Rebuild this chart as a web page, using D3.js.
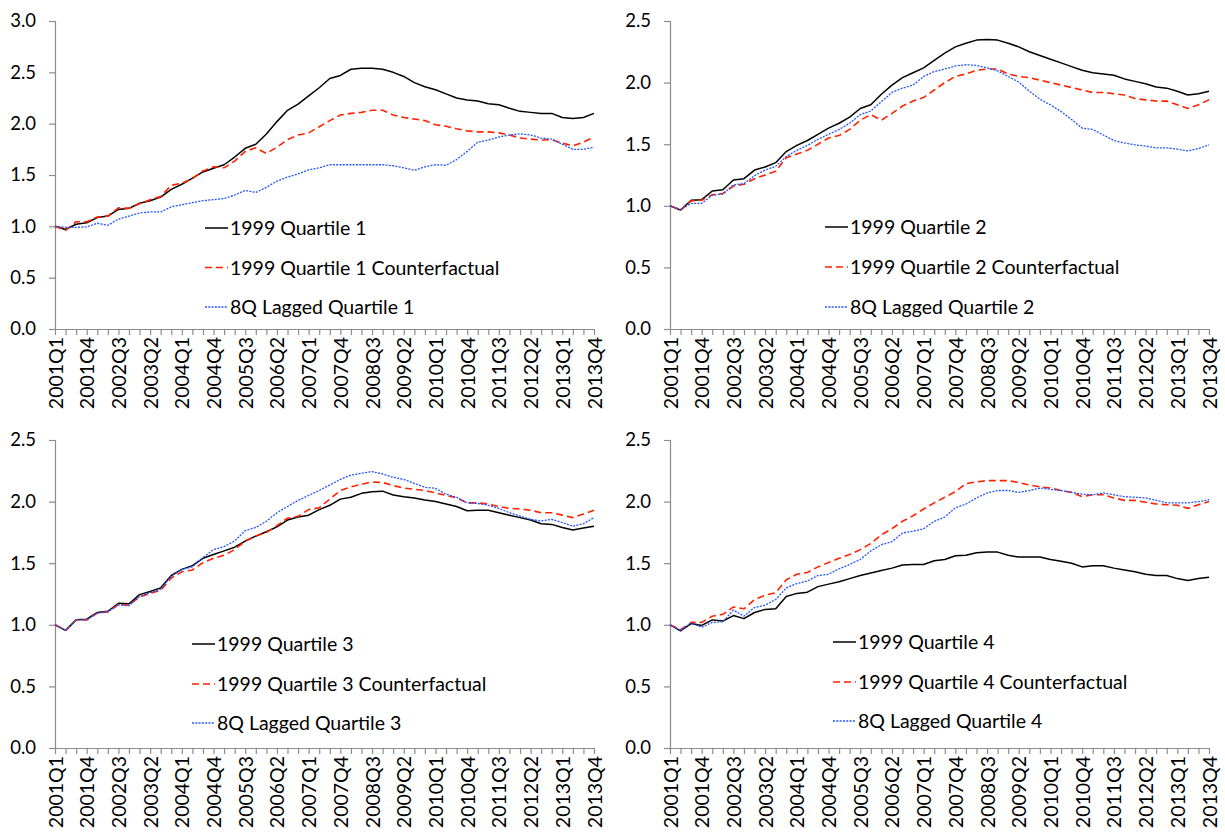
<!DOCTYPE html>
<html>
<head>
<meta charset="utf-8">
<script src="https://cdn.jsdelivr.net/npm/d3@7"></script>
<style>
  html, body { margin: 0; padding: 0; background: #fff; }
  svg { display: block; }
  text { font-family: Lato, "Open Sans", sans-serif; fill: #000; }
</style>
</head>
<body>
<svg id="chart" width="1225" height="832"></svg>
<script>
// ---- categories ----
const quarters = [
  "2001Q1","2001Q2","2001Q3","2001Q4","2002Q1","2002Q2","2002Q3","2002Q4",
  "2003Q1","2003Q2","2003Q3","2003Q4","2004Q1","2004Q2","2004Q3","2004Q4",
  "2005Q1","2005Q2","2005Q3","2005Q4","2006Q1","2006Q2","2006Q3","2006Q4",
  "2007Q1","2007Q2","2007Q3","2007Q4","2008Q1","2008Q2","2008Q3","2008Q4",
  "2009Q1","2009Q2","2009Q3","2009Q4","2010Q1","2010Q2","2010Q3","2010Q4",
  "2011Q1","2011Q2","2011Q3","2011Q4","2012Q1","2012Q2","2012Q3","2012Q4",
  "2013Q1","2013Q2","2013Q3","2013Q4"
];
const xTickLabels = [
  "2001Q1","2001Q4","2002Q3","2003Q2","2004Q1","2004Q4","2005Q3","2006Q2",
  "2007Q1","2007Q4","2008Q3","2009Q2","2010Q1","2010Q4","2011Q3","2012Q2",
  "2013Q1","2013Q4"
];
const yTicksP1 = [0, 0.5, 1.0, 1.5, 2.0, 2.5, 3.0];
const yTicksOther = [0, 0.5, 1.0, 1.5, 2.0, 2.5];

// ---- Quartile 1 ----
const q1Actual = [1.00,0.97,1.02,1.035,1.085,1.10,1.165,1.175,1.225,1.25,1.285,1.36,1.41,1.47,1.53,1.565,
  1.60,1.675,1.76,1.80,1.90,2.02,2.13,2.19,2.27,2.35,2.44,2.47,2.53,2.54,2.54,2.53,
  2.50,2.46,2.40,2.36,2.33,2.29,2.25,2.23,2.22,2.195,2.185,2.15,2.12,2.11,2.10,2.10,
  2.06,2.05,2.06,2.10];
const q1Counter = [1.00,0.96,1.045,1.045,1.09,1.10,1.18,1.175,1.22,1.26,1.29,1.40,1.42,1.465,1.54,1.58,
  1.57,1.635,1.73,1.765,1.71,1.77,1.845,1.89,1.91,1.97,2.03,2.085,2.10,2.11,2.13,2.13,
  2.085,2.06,2.045,2.03,1.99,1.975,1.95,1.93,1.92,1.92,1.91,1.89,1.86,1.85,1.84,1.845,
  1.81,1.785,1.82,1.87];
const q1Lagged = [1.00,0.99,0.99,0.995,1.03,1.01,1.07,1.10,1.13,1.14,1.14,1.19,1.21,1.23,1.25,1.26,
  1.27,1.305,1.35,1.33,1.38,1.44,1.48,1.51,1.55,1.57,1.60,1.60,1.60,1.60,1.60,1.60,
  1.59,1.57,1.545,1.58,1.60,1.595,1.65,1.73,1.82,1.84,1.87,1.89,1.90,1.89,1.86,1.85,
  1.80,1.75,1.75,1.77];

// ---- Quartile 2 ----
const q2Actual = [1.00,0.965,1.045,1.05,1.12,1.13,1.21,1.22,1.29,1.315,1.35,1.44,1.49,1.53,1.58,1.63,
  1.67,1.72,1.79,1.82,1.905,1.98,2.04,2.08,2.12,2.18,2.24,2.29,2.32,2.345,2.35,2.345,
  2.32,2.29,2.25,2.22,2.19,2.16,2.13,2.10,2.08,2.07,2.06,2.03,2.01,1.99,1.965,1.955,
  1.93,1.90,1.91,1.93];
const q2Counter = [1.00,0.965,1.04,1.045,1.09,1.10,1.16,1.175,1.22,1.25,1.28,1.39,1.42,1.45,1.50,1.55,
  1.57,1.62,1.695,1.74,1.695,1.75,1.81,1.85,1.88,1.94,2.00,2.05,2.07,2.10,2.11,2.11,
  2.07,2.05,2.04,2.02,2.00,1.98,1.96,1.94,1.92,1.92,1.91,1.90,1.87,1.86,1.85,1.85,
  1.82,1.79,1.82,1.86];
const q2Lagged = [1.00,0.97,1.02,1.02,1.085,1.095,1.17,1.18,1.245,1.29,1.32,1.40,1.45,1.49,1.54,1.58,
  1.62,1.67,1.74,1.77,1.845,1.92,1.955,1.98,2.05,2.09,2.11,2.135,2.145,2.14,2.12,2.095,
  2.05,2.005,1.93,1.865,1.82,1.765,1.70,1.63,1.62,1.575,1.53,1.51,1.495,1.485,1.47,1.47,
  1.46,1.445,1.465,1.495];

// ---- Quartile 3 ----
const q3Actual = [1.00,0.955,1.04,1.045,1.10,1.11,1.175,1.17,1.245,1.27,1.30,1.40,1.45,1.48,1.54,1.57,
  1.60,1.63,1.68,1.72,1.755,1.795,1.85,1.875,1.89,1.935,1.97,2.02,2.035,2.067,2.08,2.085,
  2.054,2.04,2.03,2.013,2.00,1.98,1.96,1.926,1.93,1.93,1.91,1.89,1.87,1.85,1.82,1.815,
  1.79,1.77,1.785,1.80];
const q3Counter = [1.00,0.955,1.04,1.04,1.095,1.105,1.165,1.16,1.225,1.255,1.28,1.38,1.43,1.445,1.505,1.54,
  1.565,1.61,1.68,1.72,1.75,1.805,1.865,1.88,1.935,1.95,2.02,2.09,2.12,2.14,2.16,2.155,
  2.13,2.11,2.10,2.09,2.07,2.05,2.03,1.99,1.99,1.98,1.96,1.945,1.94,1.93,1.91,1.91,
  1.89,1.87,1.90,1.93];
const q3Lagged = [1.00,0.955,1.04,1.04,1.095,1.105,1.16,1.155,1.23,1.26,1.29,1.395,1.45,1.47,1.545,1.61,
  1.635,1.68,1.765,1.79,1.84,1.91,1.96,2.01,2.05,2.09,2.135,2.18,2.215,2.23,2.243,2.224,
  2.197,2.18,2.148,2.116,2.108,2.06,2.035,1.99,1.985,1.97,1.945,1.91,1.883,1.856,1.843,1.856,
  1.83,1.80,1.82,1.87];

// ---- Quartile 4 ----
const q4Actual = [1.00,0.95,1.01,0.995,1.04,1.03,1.075,1.05,1.10,1.125,1.13,1.23,1.255,1.265,1.31,1.33,
  1.35,1.375,1.40,1.42,1.44,1.46,1.485,1.49,1.49,1.52,1.53,1.56,1.565,1.585,1.59,1.59,
  1.565,1.55,1.55,1.55,1.53,1.515,1.50,1.47,1.48,1.48,1.46,1.445,1.43,1.41,1.40,1.40,
  1.375,1.36,1.375,1.385];
const q4Counter = [1.00,0.96,1.02,1.02,1.07,1.085,1.145,1.13,1.205,1.24,1.26,1.365,1.41,1.425,1.47,1.505,
  1.54,1.57,1.61,1.66,1.73,1.78,1.84,1.885,1.94,1.99,2.035,2.08,2.145,2.16,2.17,2.17,
  2.17,2.155,2.135,2.12,2.11,2.09,2.075,2.04,2.055,2.055,2.03,2.01,2.01,1.995,1.98,1.975,
  1.97,1.945,1.975,2.00];
const q4Lagged = [1.00,0.955,1.015,0.98,1.02,1.025,1.12,1.07,1.14,1.16,1.205,1.30,1.335,1.355,1.40,1.41,
  1.455,1.49,1.53,1.60,1.65,1.675,1.745,1.76,1.78,1.84,1.875,1.95,1.98,2.03,2.07,2.09,
  2.09,2.075,2.09,2.11,2.10,2.09,2.075,2.06,2.055,2.07,2.055,2.04,2.035,2.03,2.01,1.99,
  1.99,1.99,2.00,2.015];

const legendNames = [
  ["1999 Quartile 1","1999 Quartile 1 Counterfactual","8Q Lagged Quartile 1"],
  ["1999 Quartile 2","1999 Quartile 2 Counterfactual","8Q Lagged Quartile 2"],
  ["1999 Quartile 3","1999 Quartile 3 Counterfactual","8Q Lagged Quartile 3"],
  ["1999 Quartile 4","1999 Quartile 4 Counterfactual","8Q Lagged Quartile 4"]
];

// ---- styles & layout ----
const seriesStyles = [
  { color: "#000000", width: 1.5, dash: null },
  { color: "#ff2200", width: 1.6, dash: "7,4" },
  { color: "#2255ff", width: 1.3, dash: "2,1.3" }
];

const panels = [
  { data: [q1Actual, q1Counter, q1Lagged], names: legendNames[0], yMax: 3.0, yTicks: yTicksP1,
    x0: 55, x1: 594, yTop: 21, yBot: 329, legX: 205, legY: [228, 267.5, 307] },
  { data: [q2Actual, q2Counter, q2Lagged], names: legendNames[1], yMax: 2.5, yTicks: yTicksOther,
    x0: 670, x1: 1209, yTop: 21, yBot: 329, legX: 825, legY: [227, 267, 307] },
  { data: [q3Actual, q3Counter, q3Lagged], names: legendNames[2], yMax: 2.5, yTicks: yTicksOther,
    x0: 55, x1: 594, yTop: 440, yBot: 748, legX: 192, legY: [644, 684, 723] },
  { data: [q4Actual, q4Counter, q4Lagged], names: legendNames[3], yMax: 2.5, yTicks: yTicksOther,
    x0: 670, x1: 1209, yTop: 440, yBot: 748, legX: 833, legY: [642, 682, 721] }
];

const svg = d3.select("#chart");
const axisColor = "#8c8c8c";

panels.forEach(p => {
  const g = svg.append("g");
  const x = d3.scalePoint().domain(quarters).range([p.x0, p.x1]).padding(0);
  const y = d3.scaleLinear().domain([0, p.yMax]).range([p.yBot, p.yTop]);

  // y axis
  const yAxis = d3.axisLeft(y).tickValues(p.yTicks).tickFormat(d3.format(".1f")).tickSize(6).tickPadding(13);
  const ya = g.append("g").attr("transform", `translate(${p.x0},0)`).call(yAxis);
  ya.select(".domain").attr("stroke", axisColor).attr("stroke-width", 1.2);
  ya.selectAll(".tick line").attr("stroke", axisColor).attr("stroke-width", 1.2);
  ya.selectAll(".tick text").style("font-family", "Lato, sans-serif").style("font-size", "18.5px").attr("fill", "#000");

  // x axis
  const xAxis = d3.axisBottom(x).tickValues(quarters)
    .tickFormat(d => xTickLabels.includes(d) ? d : "").tickSize(6).tickSizeOuter(0);
  const xa = g.append("g").attr("transform", `translate(0,${p.yBot})`).call(xAxis);
  xa.select(".domain").attr("stroke", axisColor).attr("stroke-width", 1.2);
  xa.selectAll(".tick line").attr("stroke", axisColor).attr("stroke-width", 1.2);
  xa.selectAll(".tick text")
    .style("font-family", "Lato, sans-serif").style("font-size", "19.5px").attr("fill", "#000")
    .attr("transform", "rotate(-90)")
    .attr("text-anchor", "end")
    .attr("x", -8).attr("y", 0).attr("dy", "0.36em");

  // lines
  const line = d3.line().x((d, i) => x(quarters[i])).y(d => y(d));
  p.data.forEach((vals, k) => {
    const st = seriesStyles[k];
    g.append("path").datum(vals)
      .attr("d", line)
      .attr("fill", "none")
      .attr("stroke", st.color)
      .attr("stroke-width", st.width)
      .attr("stroke-linejoin", "round")
      .attr("stroke-dasharray", st.dash);
  });

  // legend
  p.names.forEach((name, k) => {
    const st = seriesStyles[k];
    const ly = p.legY[k];
    g.append("line")
      .attr("x1", p.legX).attr("x2", p.legX + 23)
      .attr("y1", ly).attr("y2", ly)
      .attr("stroke", st.color).attr("stroke-width", st.width)
      .attr("stroke-dasharray", st.dash);
    g.append("text")
      .attr("x", p.legX + 25).attr("y", ly).attr("dy", "0.36em")
      .style("font-size", "19.5px")
      .text(name);
  });
});
</script>
</body>
</html>
